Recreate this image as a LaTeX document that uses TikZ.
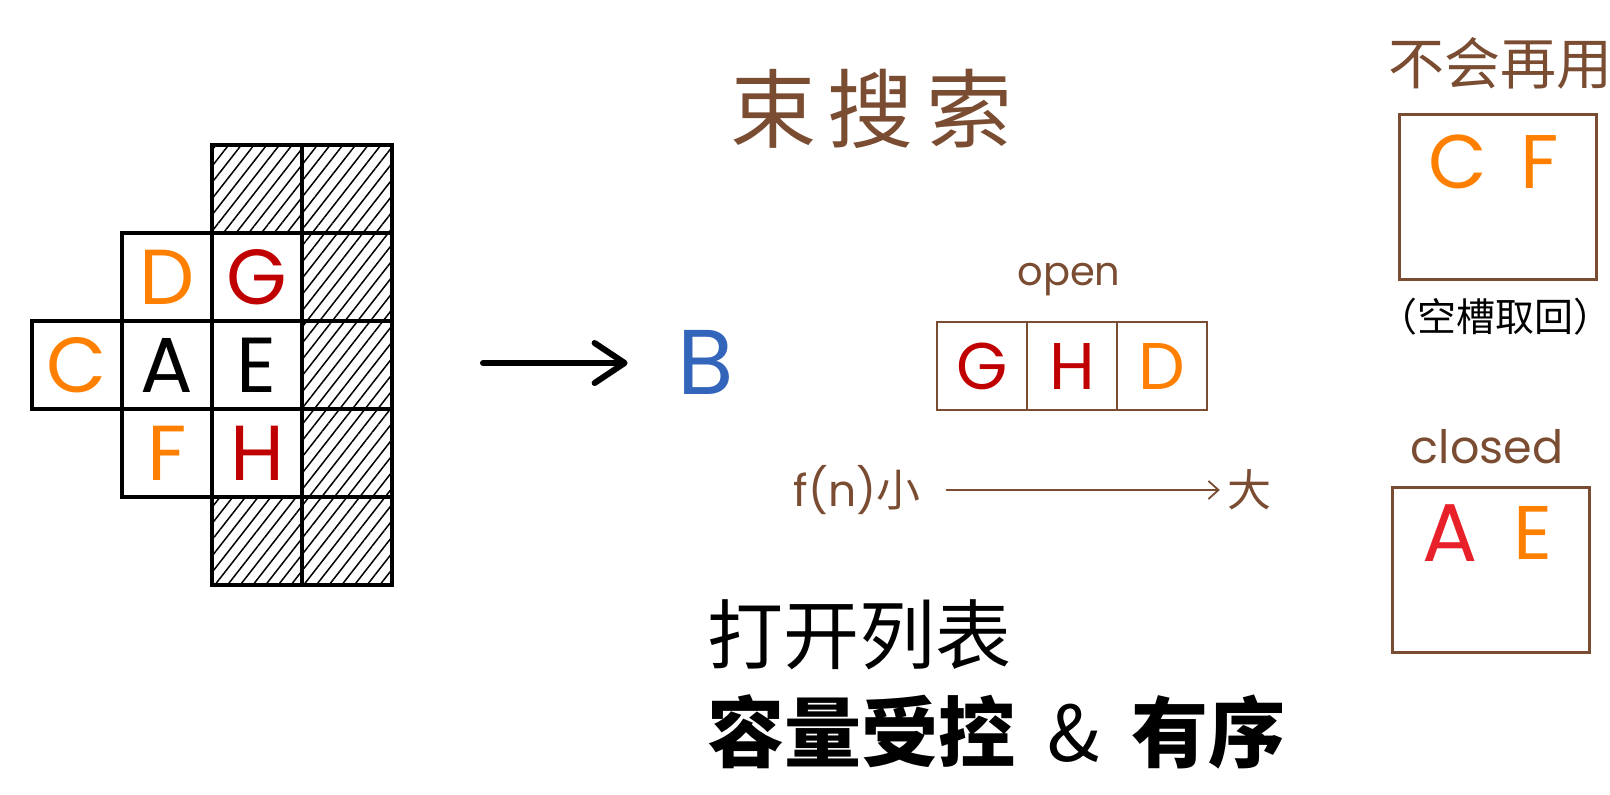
\documentclass[tikz,border=0pt]{standalone}
\usepackage{fontspec}
\usepackage{xcolor}
\usepackage{tikz}
\usetikzlibrary{arrows.meta, patterns.meta}
\setmainfont{Poppins}
\newfontfamily\cjk{Noto Sans CJK SC}
\definecolor{pen}{RGB}{122,76,50}
\definecolor{handorange}{RGB}{255,128,0}
\definecolor{handred}{RGB}{192,0,0}
\definecolor{handblue}{RGB}{51,102,187}
\definecolor{brightred}{RGB}{232,32,42}

\tikzset{
	cell/.style={draw, line width=3.6pt, minimum width=90pt, minimum height=88pt, inner sep=0pt, font=\fontsize{78}{78}\selectfont},
	hatched/.style={pattern={Lines[angle=52, distance=10pt, line width=1.5pt]}},
	listcell/.style={draw=pen, line width=2.4pt, minimum width=90pt, minimum height=88pt, inner sep=0pt, font=\fontsize{66}{66}\selectfont},
	bin/.style={draw=pen, line width=2.6pt, minimum width=197pt, minimum height=165pt},
	big/.style={inner sep=0pt, font=\fontsize{76}{76}\selectfont},
	penlabel/.style={text=pen, inner sep=0pt},
}

\begin{document}
\begin{tikzpicture}[x=1pt, y=-1pt]
	\useasboundingbox (0,0) rectangle (1610,795);
	
	\foreach \c/\r in {2/0, 3/0, 3/1, 3/2, 3/3, 2/4, 3/4}{
		\node[cell, hatched] (wall\c\r) at (77+90*\c, 189+88*\r) {};
	}
	\foreach \c/\r/\name/\col in {
		0/2/C/handorange,
		1/1/D/handorange,
		1/2/A/black,
		1/3/F/handorange,
		2/1/G/handred,
		2/2/E/black,
		2/3/H/handred}{
		\node[cell, text=\col] (\name) at (77+90*\c, 189+88*\r) {\name};
	}
	
	\coordinate (tail) at (483,363);
	\node[big, text=handblue, font=\fontsize{92}{92}\selectfont] (B) at (706,362) {B};
	\draw[line width=6pt, line cap=round, shorten >=50pt, -{Straight Barb[length=30pt, width=40pt, round]}] (tail) -- (tail -| B.west);
	
	\node[penlabel, font=\cjk\fontsize{86}{86}\selectfont] (title) at (871,109) {束\hspace{12pt}搜\hspace{12pt}索};
	
	\foreach \x/\name/\col in {982/G/handred, 1072/H/handred, 1162/D/handorange}{
		\node[listcell, text=\col] (open\name) at (\x,366) {\name};
	}
	\node[penlabel, anchor=base, font=\fontsize{40}{40}\selectfont] (openlbl) at (1069,285) {open};
	
	\node[penlabel, font=\fontsize{44}{44}\selectfont] (fsmall) at (857,490) {f(n)\cjk 小};
	\node[penlabel, font=\cjk\fontsize{44}{44}\selectfont] (fbig) at (1249,490) {大};
	\draw[pen, line width=1.8pt, line cap=round, shorten <=26pt, shorten >=7pt, -{Straight Barb[length=10pt, width=18pt]}] (fsmall) -- (fbig);
	
	\node[penlabel, anchor=west, font=\cjk\fontsize{56}{56}\selectfont] (reuselbl) at (1388,63) {不会再用};
	\node[bin] (reuse) at (1498,197) {};
	\node[big, text=handorange] (reuseC) at (1458,162) {C};
	\node[big, text=handorange] (reuseF) at (1540,162) {F};
	\node[inner sep=0pt, font=\cjk\fontsize{39}{39}\selectfont] (slot) at (1495,317) {（空槽取回）};
	
	\node[penlabel, anchor=base, font=\fontsize{46}{46}\selectfont] (closedlbl) at (1487,463) {closed};
	\node[bin] (closed) at (1491,570) {};
	\node[big, text=brightred, font=\fontsize{82}{82}\selectfont] (closedA) at (1450,533) {A};
	\node[big, text=handorange] (closedE) at (1533,533) {E};
	
	\node[anchor=west, inner sep=0pt, font=\cjk\fontsize{76}{76}\selectfont] (openlist) at (707,635) {打开列表};
	\node[anchor=west, inner sep=0pt, font=\cjk\bfseries\fontsize{77}{77}\selectfont] (orderly) at (707,732) {容量受控\hspace{32pt}{\mdseries\&}\hspace{32pt}有序};
\end{tikzpicture}
\end{document}
